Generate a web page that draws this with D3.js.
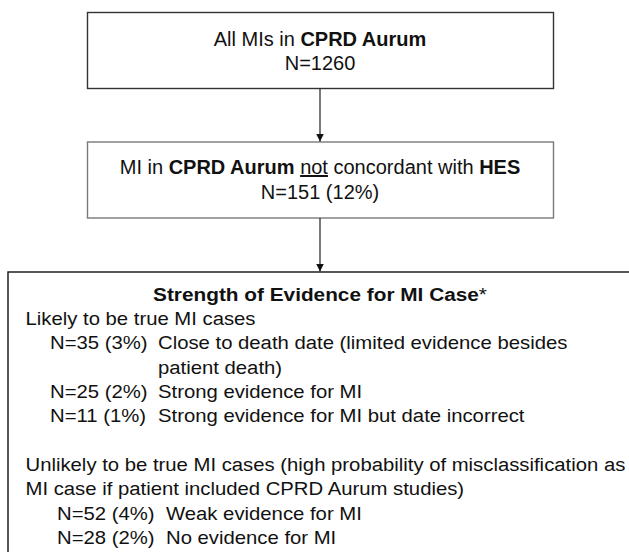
<!DOCTYPE html>
<html><head><meta charset="utf-8">
<script src="https://cdn.jsdelivr.net/npm/d3@7"></script>
<style>
html,body{margin:0;padding:0;background:#fff;}
svg{display:block;font-family:"Liberation Sans",Arial,sans-serif;}
</style></head>
<body>
<svg id="chart" width="629" height="552"></svg>
<script>
// ---- data ----
const totalMI = 1260;
const discordantN = 151;
const discordantPct = 12;
const likelyCounts = [35, 25, 11];
const likelyPcts = [3, 2, 1];
const likelyLabels = [["Close to death date (limited evidence besides", "patient death)"], ["Strong evidence for MI"], ["Strong evidence for MI but date incorrect"]];
const unlikelyCounts = [52, 28];
const unlikelyPcts = [4, 2];
const unlikelyLabels = [["Weak evidence for MI"], ["No evidence for MI"]];

const svg = d3.select("#chart");
const FS = 20;
const cx = 320;

// boxes
const boxes = [
  {x: 87.5, y: 12.5, w: 466, h: 76, stroke: "#333"},
  {x: 87.5, y: 142, w: 466, h: 76, stroke: "#7a7a7a"},
  {x: 8, y: 272, w: 640, h: 300, stroke: "#111"}
];
svg.selectAll("rect.box").data(boxes).join("rect")
  .attr("class", "box")
  .attr("x", d => d.x).attr("y", d => d.y).attr("width", d => d.w).attr("height", d => d.h)
  .attr("fill", "none").attr("stroke", d => d.stroke).attr("stroke-width", 1.4);

// arrows
svg.append("defs").append("marker").attr("id", "ah")
  .attr("viewBox", "0 0 10 10").attr("refX", 10).attr("refY", 5)
  .attr("markerWidth", 8).attr("markerHeight", 8).attr("markerUnits", "userSpaceOnUse")
  .attr("orient", "auto")
  .append("path").attr("d", "M0,0L10,5L0,10Z").attr("fill", "#111");
const arrows = [[88.5, 141.5], [218, 271.5]];
svg.selectAll("line.arrow").data(arrows).join("line")
  .attr("class", "arrow")
  .attr("x1", cx).attr("x2", cx).attr("y1", d => d[0]).attr("y2", d => d[1])
  .attr("stroke", "#222").attr("stroke-width", 1.2).attr("marker-end", "url(#ah)");

// box 1 text
const t1 = svg.append("text").attr("x", cx).attr("y", 45.5).attr("text-anchor", "middle")
  .attr("font-size", FS).attr("fill", "#111");
t1.append("tspan").text("All MIs in ");
t1.append("tspan").attr("font-weight", "bold").text("CPRD Aurum");
svg.append("text").attr("x", cx).attr("y", 70).attr("text-anchor", "middle")
  .attr("font-size", FS).attr("fill", "#111").text(`N=${totalMI}`);

// box 2 text
const t2 = svg.append("text").attr("x", cx).attr("y", 174).attr("text-anchor", "middle")
  .attr("font-size", FS).attr("fill", "#111");
t2.append("tspan").text("MI in ");
t2.append("tspan").attr("font-weight", "bold").text("CPRD Aurum");
t2.append("tspan").text(" ");
t2.append("tspan").attr("text-decoration", "underline").text("not");
t2.append("tspan").text(" concordant with ");
t2.append("tspan").attr("font-weight", "bold").text("HES");
svg.append("text").attr("x", cx).attr("y", 199).attr("text-anchor", "middle")
  .attr("font-size", FS).attr("fill", "#111").text(`N=${discordantN} (${discordantPct}%)`);

// box 3 text
const LH = 24.3;
const y0 = 300.8;
const VS = 0.89;
const g3 = svg.append("g").attr("font-size", 20.3).attr("fill", "#111");
g3.append("text").attr("text-anchor", "middle").attr("font-size", 20.8)
  .attr("transform", `translate(${cx},${y0}) scale(1,${VS * 0.97})`)
  .html('<tspan font-weight="bold">Strength of Evidence for MI Case</tspan><tspan>*</tspan>');

let row = 1;
const lines = [];
lines.push({x: 25.5, row: row++, text: "Likely to be true MI cases"});
likelyCounts.forEach((n, i) => {
  lines.push({x: 50, row: row, text: `N=${n} (${likelyPcts[i]}%)`});
  likelyLabels[i].forEach(l => lines.push({x: 158, row: row++, text: l}));
});
row++; // blank line
["Unlikely to be true MI cases (high probability of misclassification as",
 "MI case if patient included CPRD Aurum studies)"].forEach(l => lines.push({x: 25.5, row: row++, text: l}));
unlikelyCounts.forEach((n, i) => {
  lines.push({x: 57, row: row, text: `N=${n} (${unlikelyPcts[i]}%)`});
  unlikelyLabels[i].forEach(l => lines.push({x: 166, row: row++, text: l}));
});
g3.selectAll("text.ln").data(lines).join("text")
  .attr("class", "ln")
  .attr("transform", d => `translate(${d.x},${y0 + d.row * LH}) scale(1,${VS})`)
  .text(d => d.text);
</script>
</body></html>
